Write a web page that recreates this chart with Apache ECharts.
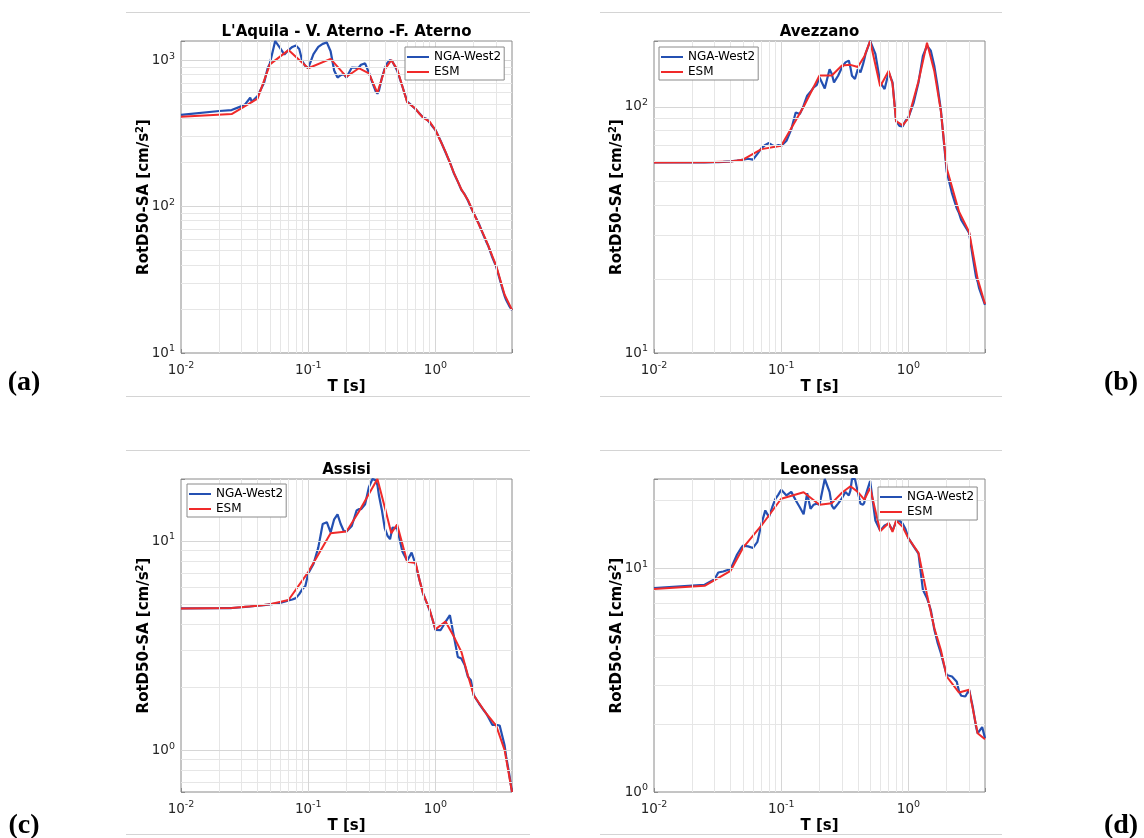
<!DOCTYPE html>
<html><head><meta charset="utf-8">
<script src="https://cdn.jsdelivr.net/npm/echarts@6/dist/echarts.min.js"></script>
<style>html,body{margin:0;padding:0;background:#fff}#c{width:1144px;height:838px}</style>
</head><body><div id="c"></div>
<script>
// ---------------- data ----------------
const panelTitles = ["L'Aquila - V. Aterno -F. Aterno", "Avezzano", "Assisi", "Leonessa"];
const panelTags = ["(a)", "(b)", "(c)", "(d)"];
const seriesNames = ["NGA-West2", "ESM"];

const periodsNGA = [0.01,0.02,0.025,0.03,0.032,0.035,0.036,0.04,0.045,0.048,
  0.05,0.055,0.06,0.065,0.07,0.075,0.08,0.085,0.09,0.095,
  0.1,0.11,0.12,0.13,0.14,0.15,0.16,0.17,0.18,0.19,
  0.2,0.22,0.24,0.25,0.26,0.28,0.3,0.32,0.34,0.35,
  0.36,0.38,0.4,0.42,0.44,0.45,0.46,0.5,0.55,0.6,
  0.65,0.7,0.75,0.8,0.85,0.9,0.95,1.0,1.1,1.2,
  1.3,1.4,1.5,1.6,1.7,1.8,1.9,2.0,2.2,2.4,
  2.5,2.6,2.8,3.0,3.2,3.4,3.5,3.6,3.8,4.0];

const saNGA_a = [422,449,456,485,500,553,520,569,700,880,
  950,1350,1210,1090,1170,1230,1260,1190,980,910,
  880,1100,1230,1290,1320,1150,850,760,790,800,
  760,890,885,890,930,950,820,700,610,590,
  620,760,880,960,1000,1005,975,850,660,520,
  490,462,432,405,398,375,352,333,280,235,
  200,168,148,130,121,110,99,90,76,63,
  58,54,45,39,32,26.5,24.5,23,21,19.6];

const saNGA_b = [59.4,59.4,59.5,59.6,59.6,59.7,59.8,60,60.5,60.8,
  61,61.5,61,64.4,68,70,71.2,69.8,69,70,
  69.4,72.8,81,94.8,93.4,101,111,115,120,122.5,
  131.6,118.7,142,136,125.6,133.7,144.5,151.5,154,144.5,
  133.7,129.6,142,138,149,156,164,185,164,125.6,
  118,138,125.6,87.7,83.7,83.2,87.7,90.5,104,125.6,
  161,177,169,146,120,97,72,54.6,44.6,38.7,
  37,34.7,32.6,30.7,24.7,20.4,19.5,18.3,16.9,15.7];

const saNGA_c = [4.76,4.77,4.78,4.82,4.84,4.86,4.87,4.9,4.94,4.96,
  4.98,5.02,5.06,5.12,5.2,5.25,5.33,5.57,5.89,6.1,
  7.0,7.76,9.3,12.06,12.3,11.0,12.7,13.4,12.06,11.2,
  11.1,11.8,14.0,14.2,14.2,15.0,18.1,19.8,19.5,18.5,
  16.5,14.0,11.5,10.6,10.2,10.1,11.6,11.5,8.9,8.05,
  8.8,7.7,6.5,5.61,5.1,4.67,4.2,3.76,3.75,4.1,
  4.42,3.48,2.79,2.74,2.55,2.24,2.16,1.83,1.67,1.55,
  1.5,1.44,1.32,1.32,1.31,1.13,1.05,0.93,0.77,0.63];

const saNGA_d = [8.14,8.36,8.42,8.93,9.56,9.66,9.8,9.9,11.5,12.2,
  12.6,12.5,12.3,13.1,15.8,18.1,16.9,18.7,20.4,21.3,
  22.4,21.1,21.9,20.1,18.7,17.4,21.6,18.4,19.2,19.4,
  19.2,25,21.9,19.0,18.4,19.4,20.5,21.9,21.1,22.2,
  25,25,21.9,19.4,19.2,19.6,21.1,24.5,16.3,14.7,
  15.5,15.8,14.7,16.1,16.3,15.8,14.9,13.6,12.5,11.6,
  8.0,7.34,6.5,5.3,4.62,4.17,3.7,3.33,3.28,3.11,
  2.81,2.69,2.67,2.86,2.41,1.96,1.83,1.84,1.95,1.74];

const periodsESM = [0.01,0.025,0.04,0.05,0.07,0.1,0.15,0.2,0.25,0.3,
  0.35,0.4,0.45,0.5,0.6,0.7,0.75,0.8,0.9,1.0,
  1.2,1.4,1.6,1.8,2.0,2.5,3.0,3.5,4.0];

const saESM_a = [411,428,545,935,1170,880,1020,769,880,812,
  598,865,1000,870,515,465,430,405,380,333,
  237,169,131,111,90,59,39.5,25,19.7];
const saESM_b = [59.4,59.5,60,61,67.3,69.4,100,134,134,147,
  148,145,160,185,121,140,124,87.5,84,90,
  127,182,139,96,56.3,37.5,31,20,15.8];
const saESM_c = [4.76,4.78,4.9,4.98,5.22,7.1,10.9,11.1,13.8,16.8,
  19.8,14.5,10.9,12.0,7.96,7.85,6.5,5.6,4.7,3.78,
  4.12,3.48,2.95,2.28,1.83,1.5,1.31,1.0,0.63];
const saESM_d = [8.06,8.33,9.73,12.3,15.5,20.4,21.8,19.2,19.5,21.7,
  23.2,21.9,20.2,22.8,14.6,15.9,14.5,16.3,15.3,13.6,
  11.7,7.6,5.39,4.31,3.28,2.78,2.86,1.83,1.72];

const xRange = [0.01, 4];
const yRanges = [[10, 1350], [10, 185], [0.63, 19.8], [1, 25]];

// ---------------- layout / style ----------------
const FONT = '"DejaVu Sans", sans-serif';
const BLUE = '#2450b2';
const RED = '#f02a2a';
const FRAME = '#8a8a8a';
const grids = [
  {left: 181, top: 41, width: 331, height: 312},
  {left: 654, top: 41, width: 331, height: 312},
  {left: 181, top: 479, width: 331, height: 313},
  {left: 654, top: 479, width: 331, height: 313}
];
const legendPos = [
  {left: 405, top: 47}, {left: 659, top: 47}, {left: 187, top: 484}, {left: 878, top: 487}
];
const nga = [saNGA_a, saNGA_b, saNGA_c, saNGA_d];
const esm = [saESM_a, saESM_b, saESM_c, saESM_d];

function zip(xs, ys) { return xs.map((x, i) => [x, ys[i]]); }
function powLabel(v) {
  const e = Math.log10(v), r = Math.round(e);
  if (Math.abs(e - r) > 1e-6) return '';
  return '{b|10}{s|' + r + '}';
}
const labelRich = {
  b: {fontSize: 13.5, fontFamily: FONT, color: '#262626', lineHeight: 18},
  s: {fontSize: 9.5, fontFamily: FONT, color: '#262626', lineHeight: 9, verticalAlign: 'top'}
};
function logGrid(min, max) {
  const major = [], minor = [];
  for (let e = Math.floor(Math.log10(min)) - 1; e <= Math.ceil(Math.log10(max)); e++) {
    for (let m = 1; m < 10; m++) {
      const v = +(m * Math.pow(10, e)).toPrecision(6);
      if (v <= min * 1.0001 || v >= max * 0.9999) continue;
      (m === 1 ? major : minor).push(v);
    }
  }
  return {major, minor};
}

const option = {
  animation: false,
  backgroundColor: '#fff',
  grid: grids.map(g => Object.assign({show: true, borderColor: FRAME, borderWidth: 1, backgroundColor: 'transparent'}, g)),
  xAxis: grids.map((g, i) => ({
    type: 'log', logBase: 10, gridIndex: i, min: xRange[0], max: xRange[1],
    axisLine: {show: false},
    axisTick: {show: true, inside: true, length: 4, lineStyle: {color: FRAME}},
    splitLine: {show: false},
    axisLabel: {formatter: powLabel, rich: labelRich, margin: 8, showMinLabel: true, showMaxLabel: true},
    name: 'T [s]', nameLocation: 'middle', nameGap: 27,
    nameTextStyle: {fontFamily: FONT, fontWeight: 'bold', fontSize: 15, color: '#000'}
  })),
  yAxis: grids.map((g, i) => ({
    type: 'log', logBase: 10, gridIndex: i, min: yRanges[i][0], max: yRanges[i][1],
    axisLine: {show: false},
    axisTick: {show: true, inside: true, length: 4, lineStyle: {color: FRAME}},
    splitLine: {show: false},
    axisLabel: {formatter: powLabel, rich: labelRich, margin: 6},
    name: '{t|RotD50-SA [cm/s}{s|2}{t|]}', nameLocation: 'middle', nameGap: 28,
    nameMoveOverlap: false,
    nameTextStyle: {
      rich: {
        t: {fontFamily: FONT, fontWeight: 'bold', fontSize: 15, color: '#000', lineHeight: 18},
        s: {fontFamily: FONT, fontWeight: 'bold', fontSize: 10, color: '#000', lineHeight: 10, verticalAlign: 'top'}
      }
    }
  })),
  legend: legendPos.map(p => ({
    orient: 'vertical', left: p.left, top: p.top, z: 10,
    data: seriesNames, selectedMode: false,
    icon: 'rect', itemWidth: 22, itemHeight: 2, itemGap: 3,
    padding: [4, 3, 2, 2],
    borderColor: FRAME, borderWidth: 1, borderRadius: 0, backgroundColor: '#fff',
    textStyle: {fontFamily: FONT, fontSize: 12, color: '#000', lineHeight: 12}
  })),
  series: [],
  graphic: []
};

grids.forEach((g, i) => {
  const xg = logGrid(xRange[0], xRange[1]);
  const yg = logGrid(yRanges[i][0], yRanges[i][1]);
  const minorStyle = {color: '#e6e6e6', width: 1, type: 'solid'};
  const majorStyle = {color: '#d6d6d6', width: 1, type: 'solid'};
  const ml = [];
  xg.minor.forEach(v => ml.push({xAxis: v, lineStyle: minorStyle}));
  yg.minor.forEach(v => ml.push({yAxis: v, lineStyle: minorStyle}));
  xg.major.forEach(v => ml.push({xAxis: v, lineStyle: majorStyle}));
  yg.major.forEach(v => ml.push({yAxis: v, lineStyle: majorStyle}));
  option.series.push({
    type: 'line', xAxisIndex: i, yAxisIndex: i, z: 1, silent: true,
    data: [[xRange[0], yRanges[i][0]]], symbol: 'none', lineStyle: {opacity: 0},
    markLine: {silent: true, symbol: ['none', 'none'], label: {show: false}, animation: false,
      emphasis: {disabled: true}, data: ml}
  });
  option.series.push({
    name: seriesNames[0], type: 'line', xAxisIndex: i, yAxisIndex: i, z: 3,
    data: zip(periodsNGA, nga[i]), symbol: 'none', showSymbol: false,
    color: BLUE, lineStyle: {color: BLUE, width: 2.2}, emphasis: {disabled: true}
  });
  option.series.push({
    name: seriesNames[1], type: 'line', xAxisIndex: i, yAxisIndex: i, z: 4,
    data: zip(periodsESM, esm[i]), symbol: 'none', showSymbol: false,
    color: RED, lineStyle: {color: RED, width: 2}, emphasis: {disabled: true}
  });
  // title
  option.graphic.push({
    type: 'text', x: g.left + g.width / 2, y: g.top - 9, z: 20,
    style: {text: panelTitles[i], align: 'center', verticalAlign: 'middle',
      font: 'bold 15px ' + FONT, fill: '#000'}
  });
});

// panel tags
const tagPos = [[24, 383], [1121, 383], [24, 826], [1121, 826]];
tagPos.forEach((p, i) => option.graphic.push({
  type: 'text', x: p[0], y: p[1], z: 20,
  style: {text: panelTags[i], align: 'center', verticalAlign: 'middle',
    font: 'bold 28px "Liberation Serif", serif', fill: '#000'}
}));
// light separator rules
[[126, 530, 12], [600, 1002, 12], [126, 530, 396], [600, 1002, 396],
 [126, 530, 450], [600, 1002, 450], [126, 530, 834], [600, 1002, 834]].forEach(r => option.graphic.push({
  type: 'line', z: 0, shape: {x1: r[0], y1: r[2] + 0.5, x2: r[1], y2: r[2] + 0.5},
  style: {stroke: '#d4d4d4', lineWidth: 1}
}));

const chart = echarts.init(document.getElementById('c'), null, {renderer: 'canvas'});
chart.setOption(option);
</script>
</body></html>
